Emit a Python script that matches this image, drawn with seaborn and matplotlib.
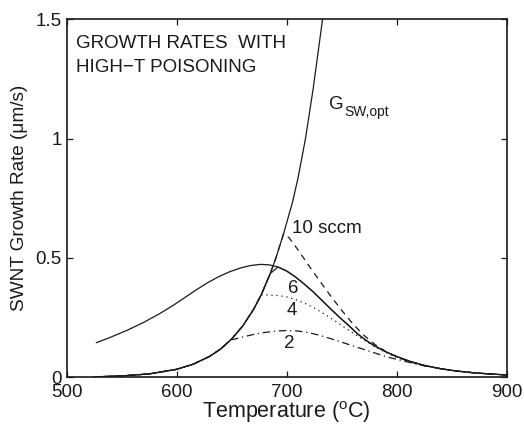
import numpy as np
import pandas as pd
import matplotlib
matplotlib.use("Agg")
import matplotlib.pyplot as plt
import seaborn as sns

# ---- data ----
T_opt = [525, 550, 575, 600, 615, 630, 640, 650, 660, 670, 677, 685, 690, 697, 705, 710, 717, 724, 732.5]
G_opt = [0.0022, 0.0059, 0.0144, 0.0337, 0.055, 0.088, 0.119, 0.161, 0.215, 0.286, 0.348, 0.435, 0.498,
         0.60, 0.73, 0.83, 1.0, 1.21, 1.50]

T_hump = [527, 540, 555, 570, 585, 597, 608, 618, 628, 638, 648, 658, 667, 676, 684, 692, 700, 708, 716,
          724, 732, 740, 748, 756, 764, 772, 780, 790, 800, 812, 825, 840, 855, 870, 885, 900]
G_hump = [0.145, 0.168, 0.197, 0.230, 0.268, 0.302, 0.336, 0.367, 0.396, 0.421, 0.442, 0.458, 0.468,
          0.473, 0.471, 0.462, 0.445, 0.420, 0.390, 0.358, 0.322, 0.286, 0.251, 0.218, 0.183, 0.155,
          0.131, 0.107, 0.087, 0.067, 0.050, 0.036, 0.026, 0.019, 0.014, 0.010]

T_10 = [697, 702, 710, 720, 730, 740, 750, 760, 770, 780, 790, 800, 812, 825, 840, 855, 870, 885, 900]
G_10 = [0.60, 0.585, 0.535, 0.468, 0.403, 0.34, 0.28, 0.224, 0.176, 0.138, 0.108, 0.085, 0.065, 0.049,
        0.036, 0.026, 0.019, 0.014, 0.010]

T_4 = [677, 685, 693, 700, 708, 716, 724, 732, 740, 750, 760, 770, 780, 790, 800, 812, 825, 840, 855,
       870, 885, 900]
G_4 = [0.345, 0.345, 0.342, 0.337, 0.326, 0.311, 0.293, 0.271, 0.248, 0.217, 0.186, 0.156, 0.128, 0.104,
       0.083, 0.064, 0.048, 0.036, 0.026, 0.019, 0.014, 0.010]

T_2 = [651, 660, 670, 680, 690, 700, 710, 720, 730, 740, 750, 760, 770, 780, 790, 800, 812, 825, 840,
       855, 870, 885, 900]
G_2 = [0.158, 0.169, 0.180, 0.188, 0.194, 0.196, 0.194, 0.187, 0.176, 0.162, 0.147, 0.132, 0.117, 0.102,
       0.087, 0.075, 0.062, 0.048, 0.036, 0.026, 0.019, 0.014, 0.010]

x_ticks = [500, 600, 700, 800, 900]
y_ticks = [0, 0.5, 1, 1.5]
y_ticklabels = ["0", "0.5", "1", "1.5"]

# ---- style ----
sns.set_theme(style="ticks")
plt.rcParams['font.family'] = ['Liberation Sans', 'DejaVu Sans']
plt.rcParams['mathtext.fontset'] = 'custom'
plt.rcParams['mathtext.rm'] = 'Liberation Sans'
plt.rcParams['mathtext.it'] = 'Liberation Sans:italic'
plt.rcParams['mathtext.bf'] = 'Liberation Sans:bold'
ink = '#1a1a1a'


def capped(Tb, Gb):
    """Curve that follows G_opt below its branch point, then the branch."""
    t = [a for a in T_opt if a < Tb[0]] + list(Tb)
    g = [b for a, b in zip(T_opt, G_opt) if a < Tb[0]] + list(Gb)
    return pd.DataFrame({"T": t, "G": g})


def six_curve():
    t = [a for a in T_opt if a < 687] + [a for a in T_hump if a >= 687]
    g = [b for a, b in zip(T_opt, G_opt) if a < 687] + [b for a, b in zip(T_hump, G_hump) if a >= 687]
    return pd.DataFrame({"T": t, "G": g})


fig = plt.figure(figsize=(5.24, 4.24), dpi=100)
ax = fig.add_axes([0.127, 0.110, 0.8406, 0.845])

lw = 0.9
sns.lineplot(data=pd.DataFrame({"T": T_opt, "G": G_opt}), x="T", y="G", ax=ax,
             color=ink, lw=lw, estimator=None)
sns.lineplot(data=pd.DataFrame({"T": T_hump, "G": G_hump}), x="T", y="G", ax=ax,
             color=ink, lw=lw, estimator=None)
sns.lineplot(data=six_curve(), x="T", y="G", ax=ax, color=ink, lw=lw, estimator=None)
sns.lineplot(data=capped(T_10, G_10), x="T", y="G", ax=ax, color=ink, lw=lw,
             estimator=None, linestyle=(0, (5, 4)))
sns.lineplot(data=capped(T_4, G_4), x="T", y="G", ax=ax, color=ink, lw=lw,
             estimator=None, linestyle=(0, (1, 3)))
sns.lineplot(data=capped(T_2, G_2), x="T", y="G", ax=ax, color=ink, lw=lw,
             estimator=None, linestyle=(0, (6, 3, 1, 3)))

ax.set_xlim(500, 900)
ax.set_ylim(0, 1.5)
ax.set_xticks(x_ticks)
ax.set_xticklabels([str(v) for v in x_ticks])
ax.set_yticks(y_ticks)
ax.set_yticklabels(y_ticklabels)
ax.tick_params(direction='in', top=True, right=True, length=4, width=0.9,
               labelsize=13.5, colors=ink)
ax.tick_params(axis='x', pad=4.5)
ax.tick_params(axis='y', pad=3.5)
for s in ax.spines.values():
    s.set_linewidth(1.2)
    s.set_color(ink)

ax.set_xlabel("Temperature ($^{\\rm o}$C)", fontsize=15.5, color=ink, labelpad=-1)
ax.set_ylabel("SWNT Growth Rate (\u03bcm/s)", fontsize=13.7, color=ink, labelpad=5)

tk = dict(color=ink, fontsize=13.5)
ax.text(508.5, 1.379, "GROWTH RATES  WITH", va='baseline', ha='left', **tk)
ax.text(508.5, 1.279, "HIGH\u2212T POISONING", va='baseline', ha='left', **tk)
ax.text(738.7, 1.123, "G", va='baseline', ha='left', color=ink, fontsize=13.5)
ax.text(752.1, 1.095, "SW,opt", va='baseline', ha='left', color=ink, fontsize=10)
ax.text(705, 0.605, "10 sccm", va='baseline', ha='left', **tk)
ax.text(701.5, 0.355, "6", va='baseline', ha='left', **tk)
ax.text(700, 0.262, "4", va='baseline', ha='left', **tk)
ax.text(697.5, 0.122, "2", va='baseline', ha='left', **tk)

fig.savefig("out.png", dpi=100, facecolor='white')
